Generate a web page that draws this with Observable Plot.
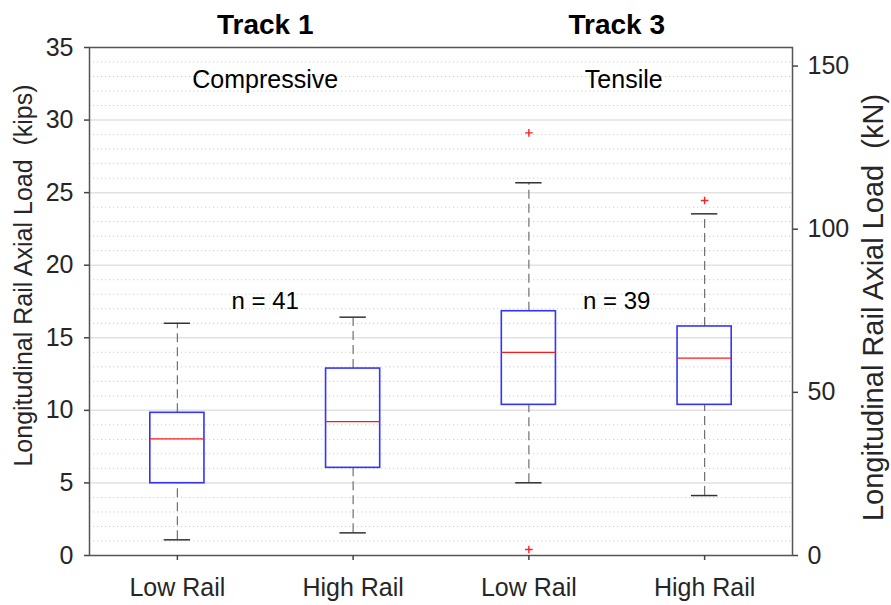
<!DOCTYPE html>
<html>
<head>
<meta charset="utf-8">
<script src="https://cdn.jsdelivr.net/npm/d3@7"></script>
<script src="https://cdn.jsdelivr.net/npm/@observablehq/plot@0.6"></script>
<style>
  html, body { margin: 0; padding: 0; background: #fff; }
  #chart svg text { white-space: pre; }
</style>
</head>
<body>
<div id="chart"></div>
<script>
// Box statistics of longitudinal rail axial load (kips), one entry per box
const groups = ["Low Rail", "High Rail", "Low Rail", "High Rail"];
const lowerWhisker = [1.08, 1.56, 5.01, 4.13];
const q1 = [4.98, 6.04, 10.38, 10.38];
const median = [8.04, 9.23, 13.99, 13.60];
const q3 = [9.83, 12.88, 16.83, 15.78];
const upperWhisker = [16.0, 16.42, 25.68, 23.54];

// Outliers: box index and value (kips)
const outlierBox = [2, 2, 3];
const outlierValue = [29.12, 0.41, 24.46];

// Panel annotations
const tracks = ["Track 1", "Track 3"];
const loadTypes = ["Compressive", "Tensile"];
const sampleSizes = ["n = 41", "n = 39"];

// Axis ticks
const kipsTicks = [0, 5, 10, 15, 20, 25, 30, 35];
const kNTicks = [0, 50, 100, 150];
const KN_PER_KIP = 4.448222;

const boxes = groups.map((g, i) => ({
  i, g,
  lo: lowerWhisker[i], q1: q1[i], med: median[i], q3: q3[i], hi: upperWhisker[i]
}));
const outliers = outlierBox.map((b, k) => ({i: b, v: outlierValue[k]}));

const BOX_HALF = 0.154;   // half box width, in slot units
const CAP_HALF = 0.075;   // half whisker-cap width

const majorGrid = kipsTicks.filter(v => v > 0 && v < 35);
const minorGrid = d3.range(1, 35).filter(v => v % 5 !== 0);

// thin "+" marker
const plusSymbol = {
  draw(ctx, size) {
    const r = Math.sqrt(size / Math.PI);
    ctx.moveTo(-r, 0); ctx.lineTo(r, 0);
    ctx.moveTo(0, -r); ctx.lineTo(0, r);
  }
};

const font = "'Liberation Sans', Arial, sans-serif";
const ink = "#262626";
const panelX = (d, k) => 2 * k + 0.5;   // centre between the two rails of a track

const chart = Plot.plot({
  width: 891,
  height: 605,
  marginLeft: 89,
  marginRight: 99,
  marginTop: 47,
  marginBottom: 50,
  style: {fontFamily: font, fontSize: "25px", color: ink, background: "#fff"},
  x: {domain: [-0.5, 3.5], axis: null},
  y: {domain: [0, 35], axis: null},
  marks: [
    // grid
    Plot.ruleY(minorGrid, {stroke: "#cccccc", strokeDasharray: "1.2,2.8", strokeWidth: 1}),
    Plot.ruleY(majorGrid, {stroke: "#e2e2e2", strokeWidth: 1.5}),

    // whiskers
    Plot.ruleX(boxes, {x: "i", y1: "q3", y2: "hi", stroke: "#707070", strokeWidth: 1.2, strokeDasharray: "9,5"}),
    Plot.ruleX(boxes, {x: "i", y1: "lo", y2: "q1", stroke: "#707070", strokeWidth: 1.2, strokeDasharray: "9,5"}),
    Plot.ruleY(boxes, {y: "hi", x1: d => d.i - CAP_HALF, x2: d => d.i + CAP_HALF, stroke: "#333", strokeWidth: 1.5}),
    Plot.ruleY(boxes, {y: "lo", x1: d => d.i - CAP_HALF, x2: d => d.i + CAP_HALF, stroke: "#333", strokeWidth: 1.5}),

    // boxes and medians
    Plot.rect(boxes, {x1: d => d.i - BOX_HALF, x2: d => d.i + BOX_HALF, y1: "q1", y2: "q3", fill: "none", stroke: "#3333ff", strokeWidth: 1.6}),
    Plot.ruleY(boxes, {y: "med", x1: d => d.i - BOX_HALF, x2: d => d.i + BOX_HALF, stroke: "#ff1a1a", strokeWidth: 1.3}),

    // outliers
    Plot.dot(outliers, {x: "i", y: "v", symbol: plusSymbol, r: 3.8, fill: "none", stroke: "#ff2020", strokeWidth: 1.4}),

    // frame
    Plot.frame({stroke: "#555", strokeWidth: 1.5}),

    // axes
    Plot.axisX([0, 1, 2, 3], {tickFormat: i => groups[i], tickSize: 5, tickPadding: 18, stroke: "#444", strokeWidth: 1.5, fill: ink, fontSize: 25, label: null}),
    Plot.axisY(kipsTicks, {anchor: "left", tickSize: 5, tickPadding: 11, stroke: "#444", strokeWidth: 1.5, fill: ink, fontSize: 25, label: null}),
    Plot.axisY(kNTicks.map(v => v / KN_PER_KIP), {anchor: "right", tickFormat: v => d3.format("d")(Math.round(v * KN_PER_KIP)), tickSize: 5, tickPadding: 10, stroke: "#444", strokeWidth: 1.5, fill: ink, fontSize: 25, label: null}),

    // axis titles
    Plot.text(["Longitudinal Rail Axial Load  (kips)"], {frameAnchor: "left", textAnchor: "middle", rotate: -90, dx: -58, dy: -26, lineAnchor: "bottom", fontSize: 25, fill: ink}),
    Plot.text(["Longitudinal Rail Axial Load  (kN)"], {frameAnchor: "right", textAnchor: "middle", rotate: -90, dx: 90, dy: 6, lineAnchor: "bottom", fontSize: 29, fill: ink}),

    // panel annotations
    Plot.text(tracks, {x: panelX, frameAnchor: "top", dy: -14, lineAnchor: "bottom", fontSize: 28, fontWeight: "bold", fill: "#000"}),
    Plot.text([loadTypes[0]], {x: [0.5], frameAnchor: "top", dy: 40, lineAnchor: "bottom", fontSize: 25, fill: "#000"}),
    Plot.text([loadTypes[1]], {x: [2.5], frameAnchor: "top", dy: 40, dx: 7, lineAnchor: "bottom", fontSize: 25, fill: "#000"}),
    Plot.text(sampleSizes, {x: panelX, frameAnchor: "top", dy: 261, lineAnchor: "bottom", fontSize: 24, fill: "#000"})
  ]
});

document.getElementById("chart").appendChild(chart);
</script>
</body>
</html>
